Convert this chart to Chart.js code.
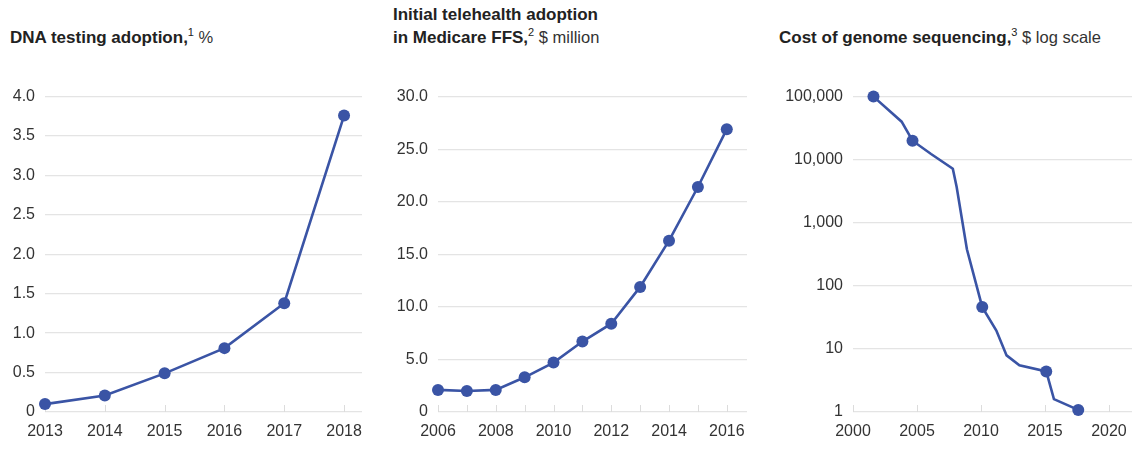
<!DOCTYPE html>
<html><head><meta charset="utf-8">
<script src="https://cdn.jsdelivr.net/npm/chart.js@4/dist/chart.umd.min.js"></script>
<style>
html,body{margin:0;padding:0;background:#fff;width:1147px;height:468px;overflow:hidden;font-family:"Liberation Sans",Arial,sans-serif;}
.title{position:absolute;font-size:17px;line-height:23px;color:#222;white-space:nowrap;}
.title b{font-weight:700;}
.title sup{font-size:11px;vertical-align:7px;line-height:0;font-weight:400;}
.title span{color:#333;font-size:16.5px;}
.wrap{position:absolute;top:77px;height:388px;}
canvas{display:block;}
</style></head>
<body>
<div class="title" style="left:10px;top:26px;"><b>DNA testing adoption,</b><sup>1</sup><span> %</span></div>
<div class="title" style="left:393px;top:3px;"><b>Initial telehealth adoption</b><br><b>in Medicare FFS,</b><sup>2</sup><span> $ million</span></div>
<div class="title" style="left:779px;top:26px;"><b>Cost of genome sequencing,</b><sup>3</sup><span> $ log scale</span></div>
<div class="wrap" style="left:0;width:380px;"><canvas id="c1" width="380" height="388"></canvas></div>
<div class="wrap" style="left:380px;width:380px;"><canvas id="c2" width="380" height="388"></canvas></div>
<div class="wrap" style="left:760px;width:387px;"><canvas id="c3" width="387" height="388"></canvas></div>
<script>
// ---- Data ----
const dnaYears = [2013, 2014, 2015, 2016, 2017, 2018];
const dnaValues = [0.1, 0.21, 0.49, 0.81, 1.38, 3.76];
const dnaYTicks = [0, 0.5, 1, 1.5, 2, 2.5, 3, 3.5, 4];

const teleYears = [2006, 2007, 2008, 2009, 2010, 2011, 2012, 2013, 2014, 2015, 2016];
const teleValues = [2.1, 2.0, 2.1, 3.3, 4.7, 6.7, 8.4, 11.9, 16.3, 21.4, 26.9];
const teleYTicks = [0, 5, 10, 15, 20, 25, 30];

const genomeYears = [2001.6, 2003.8, 2004.65, 2006.1, 2007.8, 2008.1, 2008.9, 2010.1, 2011.2, 2012.0, 2013.0, 2015.1, 2015.7, 2017.6];
const genomeCost  = [100000, 40000, 20000, 12300, 7200, 3700, 380, 46, 19.6, 7.9, 5.5, 4.4, 1.6, 1.08];
const genomeMarkedYears = [2001.6, 2004.65, 2010.1, 2015.1, 2017.6];
const genomeYTicks = [1, 10, 100, 1000, 10000, 100000];
const genomeXTicks = [2000, 2005, 2010, 2015, 2020];

// ---- Styles ----
const BLUE = '#3a54a5';
const GRID = '#e4e4e4';
const TXT = '#333';
const FONT = {family: '"Liberation Sans", Arial, sans-serif', size: 16};

const tickMarks = {
  id: 'tickMarks',
  beforeDatasetsDraw(chart) {
    const ctx = chart.ctx, x = chart.scales.x, b = chart.chartArea.bottom;
    ctx.save();
    ctx.strokeStyle = '#dcdcdc';
    ctx.lineWidth = 1;
    x.ticks.forEach(t => {
      const px = Math.round(x.getPixelForValue(t.value)) + 0.5;
      ctx.beginPath(); ctx.moveTo(px, b); ctx.lineTo(px, b - 7); ctx.stroke();
    });
    ctx.restore();
  }
};

function makeChart(id, pts, radii, cfg) {
  return new Chart(document.getElementById(id), {
    type: 'line',
    data: {datasets: [{
      data: pts, parsing: false,
      borderColor: BLUE, backgroundColor: BLUE, borderWidth: 2.6,
      pointRadius: radii, pointHoverRadius: radii, pointBackgroundColor: BLUE, pointBorderWidth: 0,
      tension: 0, clip: false
    }]},
    options: {
      responsive: false, animation: false, events: [],
      layout: {padding: {top: 12, right: cfg.padRight, left: 0, bottom: 0}},
      plugins: {legend: {display: false}, tooltip: {enabled: false}},
      scales: {
        x: {
          type: 'linear', min: cfg.xmin, max: cfg.xmax,
          afterBuildTicks: s => { s.ticks = cfg.xTicks.map(v => ({value: v})); },
          afterFit: s => { s.height = 53; },
          grid: {display: false, drawTicks: false},
          border: {display: false},
          ticks: {font: FONT, color: TXT, padding: 10, maxRotation: 0, autoSkip: false,
                  callback: cfg.xLabel}
        },
        y: {
          type: cfg.ytype, min: cfg.ymin, max: cfg.ymax,
          afterBuildTicks: s => { s.ticks = cfg.yTicks.map(v => ({value: v})); },
          afterFit: s => { s.width = cfg.yWidth; },
          grid: {color: GRID, lineWidth: 1.3, drawTicks: false},
          border: {display: false},
          ticks: {font: FONT, color: TXT, padding: 10, autoSkip: false, callback: cfg.yLabel}
        }
      }
    },
    plugins: [tickMarks]
  });
}

const range = (a, b) => { const r = []; for (let i = a; i <= b; i++) r.push(i); return r; };

makeChart('c1', dnaYears.map((y, i) => ({x: y, y: dnaValues[i]})), 6, {
  padRight: 18, xmin: 2013, xmax: 2018.3, xTicks: dnaYears, xLabel: v => String(v),
  ytype: 'linear', ymin: 0, ymax: 4, yTicks: dnaYTicks, yWidth: 45,
  yLabel: v => v === 0 ? '0' : v.toFixed(1)
});

makeChart('c2', teleYears.map((y, i) => ({x: y, y: teleValues[i]})), 6, {
  padRight: 13, xmin: 2006, xmax: 2016.7, xTicks: range(2006, 2016),
  xLabel: v => (v % 2 === 0 ? String(v) : ''),
  ytype: 'linear', ymin: 0, ymax: 30, yTicks: teleYTicks, yWidth: 58,
  yLabel: v => v === 0 ? '0' : v.toFixed(1)
});

makeChart('c3', genomeYears.map((y, i) => ({x: y, y: genomeCost[i]})),
  genomeYears.map(y => genomeMarkedYears.includes(y) ? 6 : 0), {
  padRight: 15, xmin: 2000, xmax: 2021.8, xTicks: genomeXTicks, xLabel: v => String(v),
  ytype: 'logarithmic', ymin: 1, ymax: 100000, yTicks: genomeYTicks, yWidth: 93,
  yLabel: v => v.toLocaleString('en-US')
});
</script>
</body></html>
